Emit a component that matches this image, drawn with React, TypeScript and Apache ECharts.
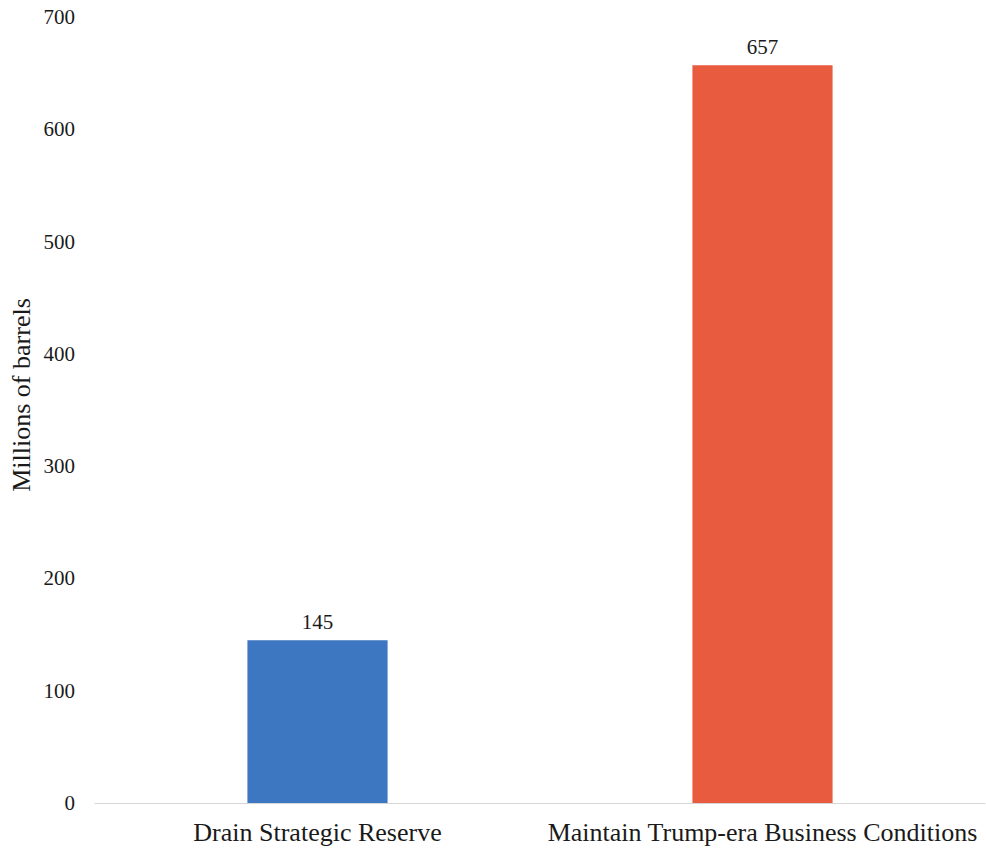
import React, { useEffect, useRef } from "react";
import * as echarts from "echarts";

const categories = ["Drain Strategic Reserve", "Maintain Trump-era Business Conditions"];
const barrels = [145, 657];
const barColors = ["#3d77c2", "#e85b3e"];
const yTicks = { min: 0, max: 700, interval: 100 };
const yAxisTitle = "Millions of barrels";

const FONT = "'Liberation Serif', 'Times New Roman', serif";

export default function App() {
  const ref = useRef<HTMLDivElement>(null);

  useEffect(() => {
    if (!ref.current) return;
    const chart = echarts.init(ref.current, undefined, { renderer: "svg" });
    chart.setOption({
      animation: false,
      backgroundColor: "#ffffff",
      grid: { left: 95, right: 1, top: 17, bottom: 48 },
      graphic: [
        {
          type: "text",
          x: 21,
          y: 395,
          rotation: Math.PI / 2,
          style: {
            text: yAxisTitle,
            fill: "#1a1a1a",
            font: `26px ${FONT}`,
            textAlign: "center",
            textVerticalAlign: "middle",
          },
        },
      ],
      xAxis: {
        type: "category",
        data: categories,
        axisLine: { lineStyle: { color: "#d6d6d6", width: 1 } },
        axisTick: { show: false },
        axisLabel: {
          margin: 16,
          color: "#1a1a1a",
          fontFamily: FONT,
          fontSize: 26,
          interval: 0,
        },
      },
      yAxis: {
        type: "value",
        min: yTicks.min,
        max: yTicks.max,
        interval: yTicks.interval,
        axisLine: { show: false },
        axisTick: { show: false },
        splitLine: { show: false },
        axisLabel: {
          margin: 20,
          color: "#1a1a1a",
          fontFamily: FONT,
          fontSize: 21,
        },
      },
      series: [
        {
          type: "bar",
          barWidth: "31.5%",
          data: barrels.map((v, i) => ({ value: v, itemStyle: { color: barColors[i] } })),
          label: {
            show: true,
            position: "top",
            distance: 8,
            color: "#1a1a1a",
            fontFamily: FONT,
            fontSize: 21,
          },
        },
      ],
    });
    return () => chart.dispose();
  }, []);

  return <div ref={ref} style={{ width: 986, height: 851, position: "absolute", left: 0, top: 0 }} />;
}
